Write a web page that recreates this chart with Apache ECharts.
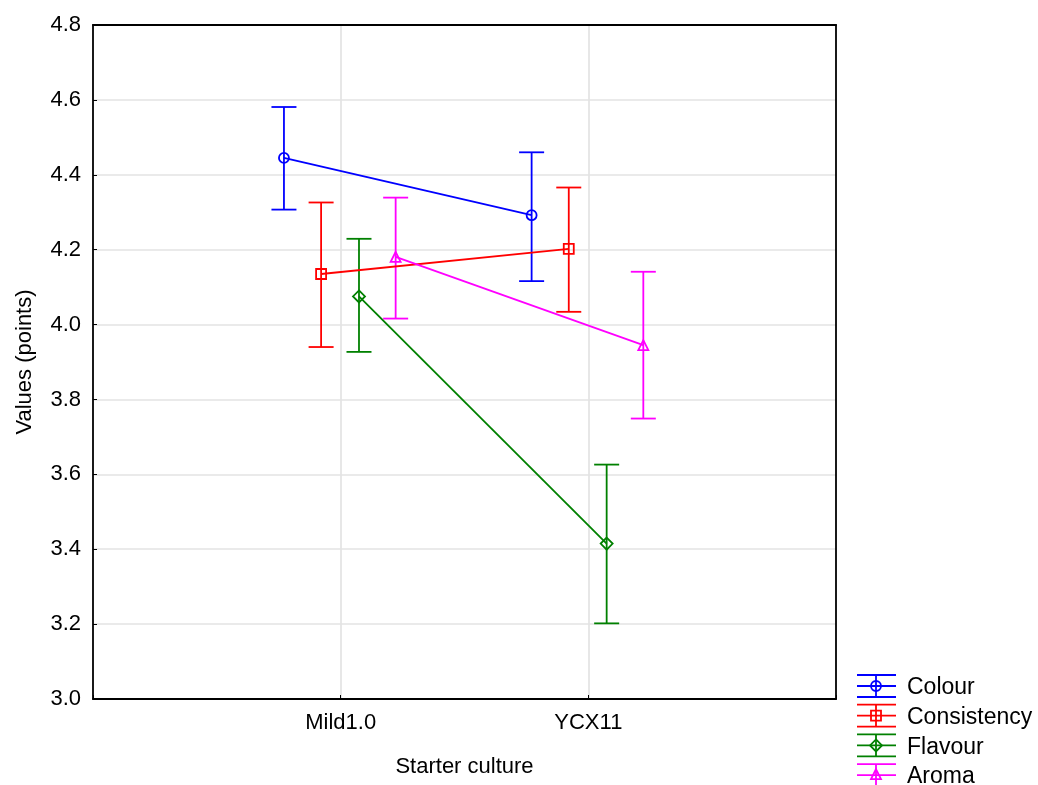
<!DOCTYPE html>
<html><head><meta charset="utf-8">
<script src="https://cdn.jsdelivr.net/npm/echarts@6/dist/echarts.min.js"></script>
<style>html,body{margin:0;padding:0;background:#fff}#c{width:1038px;height:785px}</style>
</head><body><div id="c"></div>
<script>
const categories = ['Mild1.0', 'YCX11'];
const seriesNames = ['Colour', 'Consistency', 'Flavour', 'Aroma'];
const colourMean = [4.445, 4.292];
const colourLow = [4.307, 4.116];
const colourHigh = [4.581, 4.460];
const consistencyMean = [4.135, 4.202];
const consistencyLow = [3.940, 4.034];
const consistencyHigh = [4.326, 4.366];
const flavourMean = [4.075, 3.415];
const flavourLow = [3.927, 3.202];
const flavourHigh = [4.229, 3.626];
const aromaMean = [4.181, 3.945];
const aromaLow = [4.016, 3.749];
const aromaHigh = [4.339, 4.141];

const means = [colourMean, consistencyMean, flavourMean, aromaMean];
const lows = [colourLow, consistencyLow, flavourLow, aromaLow];
const highs = [colourHigh, consistencyHigh, flavourHigh, aromaHigh];
const colors = ['#0000ff', '#ff0000', '#008000', '#ff00ff'];
const symbols = ['circle', 'rect', 'diamond', 'triangle'];
const dodge = [-0.229, -0.079, 0.074, 0.222];
const FONT = "'Liberation Sans', Arial, sans-serif";
const LW = 1.8;

const chart = echarts.init(document.getElementById('c'), null, {renderer: 'canvas'});
const series = [];
seriesNames.forEach((name, s) => {
  const c = colors[s];
  series.push({
    name: name, type: 'custom', z: 3, xAxisIndex: 0, yAxisIndex: 0,
    data: categories.map((cat, i) => [i + 1 + dodge[s], lows[s][i], highs[s][i]]),
    encode: {x: 0, y: [1, 2]},
    renderItem: function (params, api) {
      const x = api.value(0);
      const lo = api.coord([x, api.value(1)]);
      const hi = api.coord([x, api.value(2)]);
      const hw = 12.5;
      const st = {stroke: c, lineWidth: LW};
      return {type: 'group', children: [
        {type: 'line', shape: {x1: lo[0], y1: lo[1], x2: hi[0], y2: hi[1]}, style: st},
        {type: 'line', shape: {x1: lo[0] - hw, y1: lo[1], x2: lo[0] + hw, y2: lo[1]}, style: st},
        {type: 'line', shape: {x1: hi[0] - hw, y1: hi[1], x2: hi[0] + hw, y2: hi[1]}, style: st}
      ]};
    }
  });
  series.push({
    name: name, type: 'line', z: 4, xAxisIndex: 0, yAxisIndex: 0,
    data: categories.map((cat, i) => [i + 1 + dodge[s], means[s][i]]),
    symbol: symbols[s], symbolSize: s === 2 ? 12 : 10,
    lineStyle: {color: c, width: LW},
    itemStyle: {color: 'rgba(0,0,0,0)', borderColor: c, borderWidth: LW},
    emphasis: {disabled: true}, animation: false
  });
});

// legend drawn with graphics
const legendChildren = [];
const lx0 = 857, lx1 = 896, lxc = 876, ly0 = 686, ldy = 29.7, cap = 11;
seriesNames.forEach((name, s) => {
  const cy = ly0 + s * ldy, c = colors[s];
  const st = {stroke: c, lineWidth: LW, fill: null};
  legendChildren.push(
    {type: 'line', shape: {x1: lx0, y1: cy, x2: lx1, y2: cy}, style: st},
    {type: 'line', shape: {x1: lx0, y1: cy - cap, x2: lx1, y2: cy - cap}, style: st},
    {type: 'line', shape: {x1: lx0, y1: cy + cap, x2: lx1, y2: cy + cap}, style: st},
    {type: 'line', shape: {x1: lxc, y1: cy - cap, x2: lxc, y2: cy + cap}, style: st}
  );
  const sst = {stroke: c, lineWidth: LW, fill: 'rgba(0,0,0,0)'};
  if (s === 0) legendChildren.push({type: 'circle', shape: {cx: lxc, cy: cy, r: 5}, style: sst});
  if (s === 1) legendChildren.push({type: 'rect', shape: {x: lxc - 5, y: cy - 5, width: 10, height: 10}, style: sst});
  if (s === 2) legendChildren.push({type: 'polygon', shape: {points: [[lxc, cy - 6], [lxc + 6, cy], [lxc, cy + 6], [lxc - 6, cy]]}, style: sst});
  if (s === 3) legendChildren.push({type: 'polygon', shape: {points: [[lxc, cy - 6], [lxc + 5, cy + 4], [lxc - 5, cy + 4]]}, style: sst});
  legendChildren.push({type: 'text', x: 907, y: cy + 2, style: {text: name, fill: '#000', font: '23px ' + FONT, textVerticalAlign: 'middle', verticalAlign: 'middle'}});
});

const gridLine = {show: true, showMinLine: false, showMaxLine: false, lineStyle: {color: '#e3e3e3', width: 1.7}};
const frameAxis = {show: true, onZero: false, lineStyle: {color: '#000', width: 1.8}};

chart.setOption({
  animation: false,
  backgroundColor: '#fff',
  grid: {left: 93, right: 202, top: 25, bottom: 86, show: false, containLabel: false},
  xAxis: [{
    type: 'value', min: 0, max: 3, interval: 1,
    name: 'Starter culture', nameLocation: 'middle', nameGap: 57,
    nameTextStyle: {fontFamily: FONT, fontSize: 22, color: '#000'},
    axisLine: frameAxis,
    axisTick: {show: true, inside: true, length: 4, lineStyle: {color: '#000', width: 1}},
    axisLabel: {fontFamily: FONT, fontSize: 22, color: '#000', margin: 13,
      formatter: v => (Number.isInteger(v) && v >= 1 && v <= categories.length) ? categories[v - 1] : ''},
    splitLine: gridLine
  }, {
    type: 'value', position: 'top', min: 0, max: 3, interval: 1,
    axisLine: frameAxis, axisTick: {show: false}, axisLabel: {show: false}, splitLine: {show: false}
  }],
  yAxis: [{
    type: 'value', min: 3.0, max: 4.8, interval: 0.2,
    name: 'Values (points)', nameLocation: 'middle', nameGap: 57, nameRotate: 90,
    nameTextStyle: {fontFamily: FONT, fontSize: 22, color: '#000'},
    axisLine: frameAxis,
    axisTick: {show: true, inside: true, length: 4, lineStyle: {color: '#000', width: 1}},
    axisLabel: {fontFamily: FONT, fontSize: 22, color: '#000', margin: 12, formatter: v => v.toFixed(1)},
    splitLine: gridLine
  }, {
    type: 'value', position: 'right', min: 3.0, max: 4.8, interval: 0.2,
    axisLine: frameAxis, axisTick: {show: false}, axisLabel: {show: false}, splitLine: {show: false}
  }],
  series: series,
  graphic: [{type: 'group', silent: true, children: legendChildren}]
});
</script></body></html>
